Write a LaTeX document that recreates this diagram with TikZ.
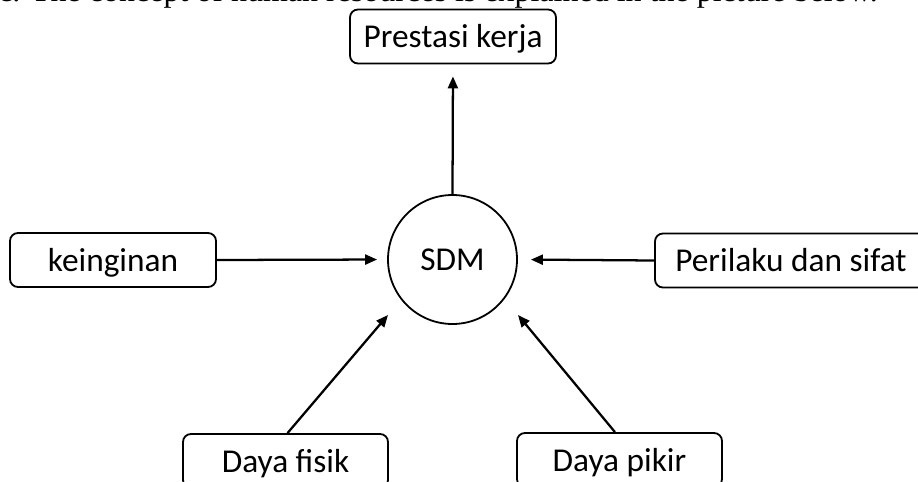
\documentclass[tikz,border=0pt]{standalone}
\usepackage{fontspec}
\setmainfont{Carlito}
\newfontfamily\capfont{Liberation Serif}
\usetikzlibrary{arrows.meta}
\begin{document}
\begin{tikzpicture}[x=0.75pt,y=-0.75pt,
  lbl/.style={font=\fontsize{25pt}{30pt}\selectfont, text height=17pt, text depth=0.2pt},
  box/.style={draw, lbl, line width=1.35pt, rounded corners=6pt, minimum width=206*0.75pt, minimum height=54*0.75pt, inner sep=0pt},
  hub/.style={draw, lbl, circle, line width=1.35pt, minimum size=129*0.75pt, inner sep=0pt},
  arr/.style={line width=1.7pt, -{Triangle[length=9pt,width=7.5pt]}}]
\useasboundingbox (0,0) rectangle (918,482);
\clip (0,0) rectangle (918,482);
\node[anchor=base west, inner sep=0pt, font=\capfont\fontsize{24pt}{28pt}\selectfont] (cap) at (-2,1) {c. The concept of human resources is explained in the picture below.};
\node[hub] (sdm) at (452.5,259.5) {SDM};
\node[box] (prest) at (453,36.5) {Prestasi kerja};
\node[box] (kein) at (113,260) {keinginan};
\node[box, minimum width=272*0.75pt] (peri) at (791,260.5) {Perilaku dan sifat};
\node[box, minimum width=205*0.75pt] (fisik) at (285.5,461) {Daya fisik};
\node[box, minimum width=205*0.75pt] (pikir) at (619.5,460) {Daya pikir};
\coordinate (tipL) at (388,315);
\coordinate (tipR) at (518,315);
\draw[arr, shorten >=12*0.75pt] (sdm.north) -- (prest.south);
\draw[arr, shorten >=10*0.75pt] (kein.east) -- (sdm.west);
\draw[arr, shorten >=13*0.75pt] (peri.west) -- (sdm.east);
\draw[arr] ([xshift=1.5pt]fisik.north) -- (tipL);
\draw[arr] ([xshift=-3.4pt]pikir.north) -- (tipR);
\end{tikzpicture}
\end{document}
